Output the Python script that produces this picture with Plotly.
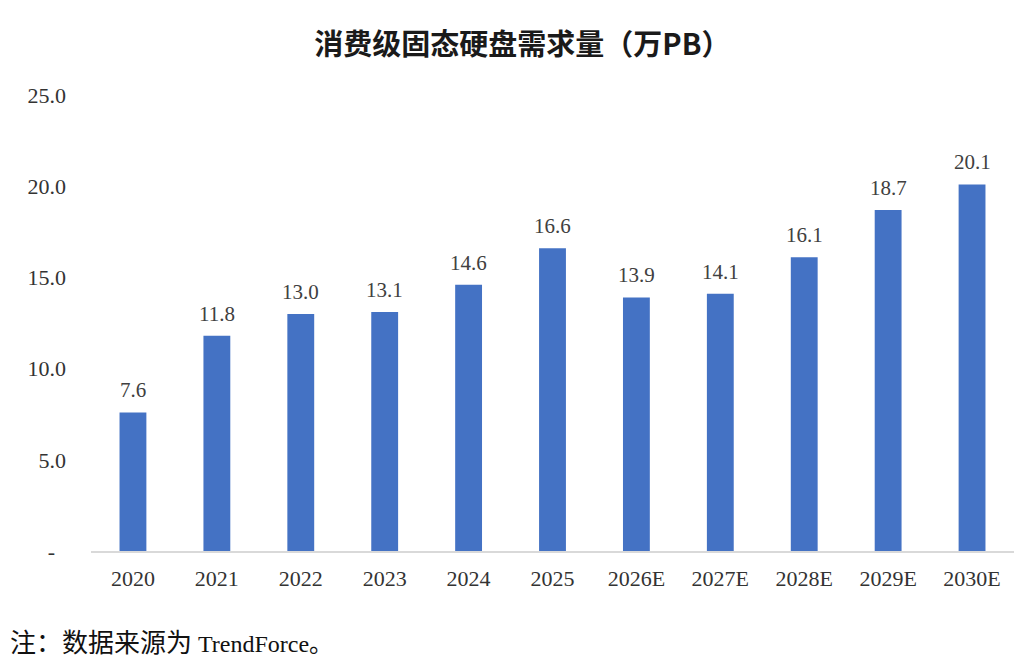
import plotly.graph_objects as go

years = ["2020", "2021", "2022", "2023", "2024", "2025",
         "2026E", "2027E", "2028E", "2029E", "2030E"]
demand = [7.6, 11.8, 13.0, 13.1, 14.6, 16.6, 13.9, 14.1, 16.1, 18.7, 20.1]
ytick_vals = [0, 5, 10, 15, 20, 25]
ytick_text = ["-\u00a0\u00a0", "5.0", "10.0", "15.0", "20.0", "25.0"]

serif = "Liberation Serif, Times New Roman, serif"

fig = go.Figure()
fig.add_trace(go.Bar(
    x=years, y=demand,
    marker=dict(color="#4472C4", line=dict(width=0)),
    width=0.32,
))

# value labels above each bar (category axis -> positions by index)
labels = [dict(x=i, y=v, text=f"{v:.1f}", showarrow=False,
               xref="x", yref="y", yanchor="bottom", yshift=8,
               font=dict(family=serif, size=21, color="#404040"))
          for i, v in enumerate(demand)]

# page body adds an 8px offset, so margins are shifted to compensate
fig.update_layout(
    width=1035, height=670,
    paper_bgcolor="white", plot_bgcolor="white",
    margin=dict(l=83, r=29, t=87, b=127),
    showlegend=False,
    title=dict(
        text="<b>消费级固态硬盘需求量（万PB）</b>",
        x=0.497, xanchor="center", y=0.945, yanchor="middle",
        font=dict(family="Noto Sans CJK SC, sans-serif", size=29, color="#1a1a1a"),
    ),
    xaxis=dict(
        type="category", range=[-0.5, len(years) - 0.5],
        showgrid=False, showline=True, linecolor="#d9d9d9", linewidth=2,
        ticks="", ticklabelstandoff=7,
        tickfont=dict(family=serif, size=22, color="#333333"),
    ),
    yaxis=dict(
        range=[0, 25], showgrid=False, zeroline=False, showline=False,
        tickvals=ytick_vals, ticktext=ytick_text, ticks="",
        ticklabelstandoff=24,
        tickfont=dict(family=serif, size=22, color="#333333"),
    ),
    annotations=labels + [dict(
        text='<span style="font-size:26px">注：数据来源为</span> TrendForce。',
        xref="paper", yref="paper", x=-83 / 923, y=-92 / 456,
        xanchor="left", yanchor="middle", showarrow=False,
        font=dict(family=serif + ", Noto Sans CJK SC", size=24, color="#111111"),
    )],
)

fig.write_html("out.html")
